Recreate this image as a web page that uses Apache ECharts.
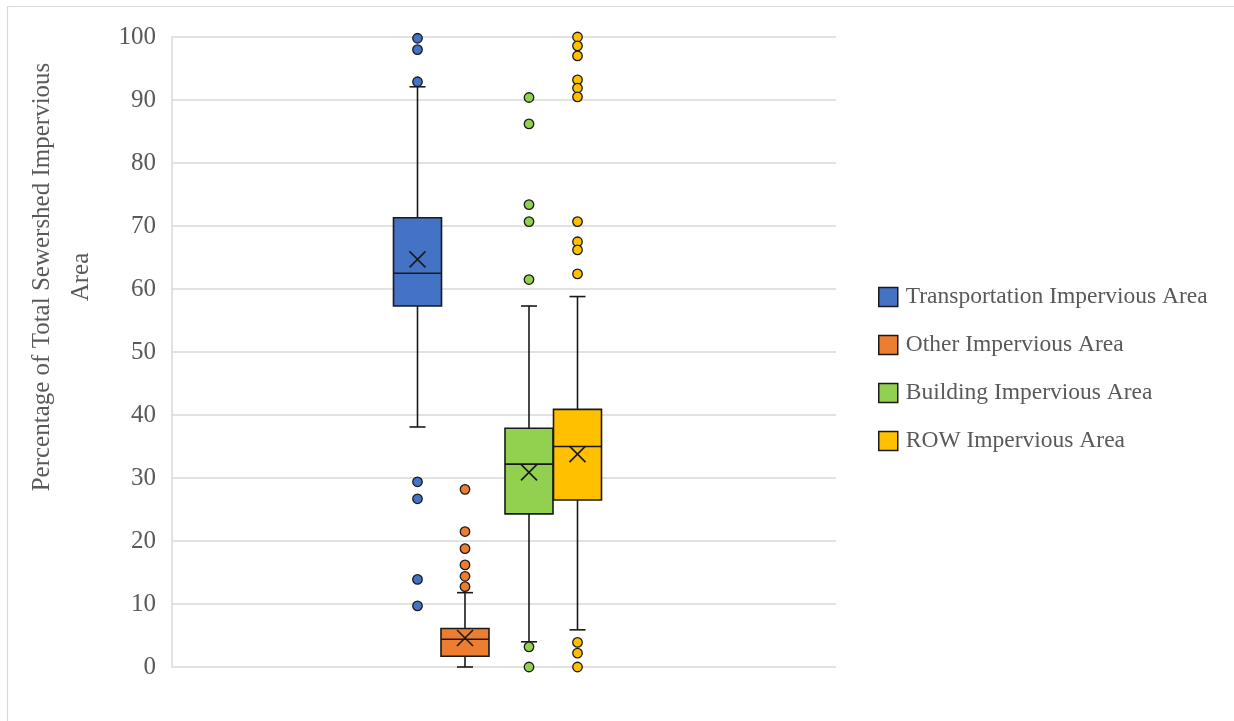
<!DOCTYPE html>
<html>
<head>
<meta charset="utf-8">
<script src="https://cdn.jsdelivr.net/npm/echarts@6/dist/echarts.min.js"></script>
<style>
html,body{margin:0;padding:0;background:#fff;}
#chart{width:1234px;height:721px;}
</style>
</head>
<body>
<div id="chart"></div>
<script>
// ---- data ----
const seriesNames = ['Transportation Impervious Area', 'Other Impervious Area', 'Building Impervious Area', 'ROW Impervious Area'];
const whiskerLow  = [38.1, 0.0, 4.0, 5.9];
const quartile1   = [57.3, 1.7, 24.3, 26.5];
const medians     = [62.5, 4.4, 32.2, 35.0];
const quartile3   = [71.3, 6.1, 37.9, 40.9];
const whiskerHigh = [92.1, 11.8, 57.3, 58.8];
const means       = [64.7, 4.6, 30.9, 33.8];
const outliers = [
  [99.8, 98.0, 92.9, 29.4, 26.7, 13.9, 9.7],
  [28.2, 21.5, 18.8, 16.2, 14.4, 12.75],
  [90.4, 86.2, 73.4, 70.7, 61.5, 3.2, 0],
  [100, 98.6, 97.0, 93.2, 91.9, 90.5, 70.7, 67.5, 66.2, 62.4, 3.9, 2.2, 0]
];
const yTicks = {min: 0, max: 100, interval: 10};
const axisTitle = 'Percentage of Total Sewershed Impervious\nArea';

// ---- styles / layout ----
const colors = ['#4472C4', '#ED7D31', '#92D050', '#FFC000'];
const boxOffsets = [-86.5, -39, 25, 73.5];
const boxHalf = 24, capHalf = 8, xHalf = 8;
const lineColor = '#1a1a1a';
const textColor = '#595959';
const font = 'Liberation Serif, Times New Roman, serif';

const chart = echarts.init(document.getElementById('chart'), null, {renderer: 'canvas'});

function makeRender(idx) {
  return function (params, api) {
    const cx = api.coord([0, 0])[0] + boxOffsets[idx];
    const y = v => api.coord([0, v])[1];
    const lo = y(api.value(1)), q1 = y(api.value(2)), md = y(api.value(3)),
          q3 = y(api.value(4)), hi = y(api.value(5)), mn = y(api.value(6));
    const ls = {stroke: lineColor, lineWidth: 1.6};
    return {
      type: 'group',
      children: [
        {type: 'line', shape: {x1: cx, y1: q3, x2: cx, y2: hi}, style: ls},
        {type: 'line', shape: {x1: cx, y1: q1, x2: cx, y2: lo}, style: ls},
        {type: 'line', shape: {x1: cx - capHalf, y1: hi, x2: cx + capHalf, y2: hi}, style: ls},
        {type: 'line', shape: {x1: cx - capHalf, y1: lo, x2: cx + capHalf, y2: lo}, style: ls},
        {type: 'rect', shape: {x: cx - boxHalf, y: q3, width: boxHalf * 2, height: q1 - q3},
         style: {fill: colors[idx], stroke: lineColor, lineWidth: 1.6}},
        {type: 'line', shape: {x1: cx - boxHalf, y1: md, x2: cx + boxHalf, y2: md}, style: ls},
        {type: 'line', shape: {x1: cx - xHalf, y1: mn - xHalf, x2: cx + xHalf, y2: mn + xHalf}, style: ls},
        {type: 'line', shape: {x1: cx - xHalf, y1: mn + xHalf, x2: cx + xHalf, y2: mn - xHalf}, style: ls}
      ]
    };
  };
}

const series = [];
seriesNames.forEach((name, i) => {
  series.push({
    type: 'custom',
    name: name,
    renderItem: makeRender(i),
    itemStyle: {color: colors[i]},
    encode: {x: 0, y: [1, 2, 3, 4, 5]},
    data: [[0, whiskerLow[i], quartile1[i], medians[i], quartile3[i], whiskerHigh[i], means[i]]],
    z: 3
  });
  series.push({
    type: 'scatter',
    name: name,
    symbol: 'circle',
    symbolSize: 9.5,
    symbolOffset: [boxOffsets[i], 0],
    itemStyle: {color: colors[i], borderColor: lineColor, borderWidth: 1.3, opacity: 1},
    data: outliers[i].map(v => [0, v]),
    z: 4
  });
});

chart.setOption({
  animation: false,
  backgroundColor: '#fff',
  grid: {left: 172, top: 37, right: 398, bottom: 54},
  xAxis: {
    type: 'category',
    data: [''],
    axisLine: {show: false},
    axisTick: {show: false},
    axisLabel: {show: false},
    splitLine: {show: false}
  },
  yAxis: {
    type: 'value',
    min: yTicks.min, max: yTicks.max, interval: yTicks.interval,
    axisLine: {show: true, lineStyle: {color: '#d9d9d9', width: 1.5}},
    axisTick: {show: false},
    axisLabel: {color: textColor, fontSize: 25, fontFamily: font, margin: 16},
    splitLine: {show: true, lineStyle: {color: '#d9d9d9', width: 1.5}}
  },
  legend: {
    orient: 'vertical',
    left: 873,
    top: 280,
    itemWidth: 19,
    itemHeight: 19,
    itemGap: 24,
    textStyle: {color: textColor, fontSize: 23.5, fontFamily: font, lineHeight: 20, padding: [0, 0, 0, 3]},
    data: seriesNames.map((n, i) => ({
      name: n, icon: 'rect',
      itemStyle: {color: colors[i], borderColor: lineColor, borderWidth: 1.5}
    }))
  },
  graphic: [
    {
      type: 'rect', silent: true,
      shape: {x: 7.5, y: 6.5, width: 1260, height: 740},
      style: {fill: 'none', stroke: '#d9d9d9', lineWidth: 1.2}
    },
    {
      type: 'text', silent: true,
      x: 62, y: 277, rotation: Math.PI / 2,
      style: {
        text: axisTitle, fill: textColor, fontSize: 25, fontFamily: font,
        lineHeight: 39, align: 'center', verticalAlign: 'middle'
      }
    }
  ],
  series: series
});
</script>
</body>
</html>
